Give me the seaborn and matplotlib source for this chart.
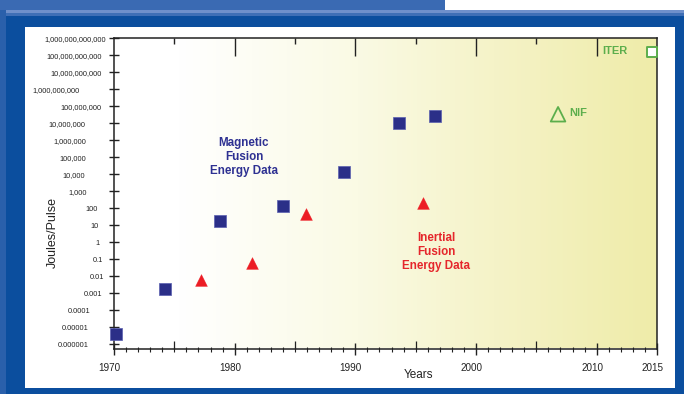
import numpy as np
import pandas as pd
import matplotlib
matplotlib.use("Agg")
import matplotlib.pyplot as plt
import seaborn as sns
from matplotlib.transforms import ScaledTranslation
from matplotlib.colors import LinearSegmentedColormap
from matplotlib.patches import Rectangle

# ---------------- data ----------------
mfe_years = [1970.2, 1974.2, 1978.8, 1984.0, 1989.1, 1993.6, 1996.6]
mfe_joules = [3.9e-6, 1.8e-3, 18, 140, 1.3e4, 1.0e7, 2.8e7]
ife_years = [1977.2, 1981.4, 1985.9, 1995.6]
ife_joules = [6e-3, 0.057, 46, 195]
nif_year = [2006.8]
nif_joules = [3.4e7]
iter_year = [2014.6]
iter_joules = [1.6e11]

ytick_values = [1e-6, 1e-5, 1e-4, 1e-3, 1e-2, 1e-1, 1, 10, 100, 1e3, 1e4, 1e5,
                1e6, 1e7, 1e8, 1e9, 1e10, 1e11, 1e12]
ytick_labels = ["0.000001", "0.00001", "0.0001", "0.001", "0.01", "0.1", "1", "10",
                "100", "1,000", "10,000", "100,000", "1,000,000", "10,000,000",
                "100,000,000", "1,000,000,000", "10,000,000,000",
                "100,000,000,000", "1,000,000,000,000"]
xtick_years = [1970, 1980, 1990, 2000, 2010, 2015]
xtick_labels = ["1970", "1980", "1990", "2000", "2010", "2015"]
mid_years = [1975, 1985, 1995, 2005]
top_long_years = [1980, 1990, 2000, 2010]
top_short_years = [1975, 1985, 1995, 2005]
minor_years = list(range(1970, 2016))

# ---------------- style ----------------
sns.set_theme(style="white")
plt.rcParams["font.family"] = ["Liberation Sans", "DejaVu Sans"]

NAVY = "#2b2f88"
RED = "#ec1c24"
GREEN = "#5cae4c"
INK = "#222222"
FRAME = "#0b4e9e"

W, H = 684, 394
fig = plt.figure(figsize=(W / 100, H / 100), dpi=100, facecolor=FRAME)

def frect(x0, y0, x1, y1, color, z=-5):
    fig.add_artist(Rectangle((x0 / W, 1 - y1 / H), (x1 - x0) / W, (y1 - y0) / H,
                             transform=fig.transFigure, facecolor=color,
                             edgecolor="none", zorder=z))

# outer decoration
frect(0, 0, 445, 10, "#3a6ab3")
frect(445, 0, W, 10, "#ffffff")
frect(0, 10, W, 13, "#6f90cb")
frect(0, 13, W, 16, "#3f6fb6")
frect(0, 10, 6, H, "#2a60ab", z=-4)
frect(25, 27, 675, 388, "#ffffff", z=-3)

# axes placement (pixels)
L, R, T, B = 114, 657, 38.3, 348.5
pos = [L / W, 1 - B / H, (R - L) / W, (B - T) / H]

# gradient background
bg = fig.add_axes(pos, zorder=0)
cmap = LinearSegmentedColormap.from_list(
    "fade", [(0, "#ffffff"), (0.12, "#ffffff"), (0.45, "#fafae4"),
             (0.7, "#f5f3c8"), (1, "#efeca9")])
bg.imshow(np.linspace(0, 1, 256)[None, :], cmap=cmap, aspect="auto",
          extent=[0, 1, 0, 1])
bg.axis("off")

ax = fig.add_axes(pos, zorder=1)
ax.set_facecolor("none")
ax.set_yscale("log")
ax.set_xlim(1970, 2015)
ax.set_ylim(10 ** -6.25, 1e12)

mfe = pd.DataFrame({"Years": mfe_years, "Joules": mfe_joules})
ife = pd.DataFrame({"Years": ife_years, "Joules": ife_joules})

sns.scatterplot(data=mfe, x="Years", y="Joules", marker="s", s=75, color=NAVY,
                edgecolor="#5a5fb0", linewidth=0.5, ax=ax, zorder=3, clip_on=False)
sns.scatterplot(data=ife, x="Years", y="Joules", marker="^", s=72, color=RED,
                edgecolor=RED, linewidth=0.3, ax=ax, zorder=3, clip_on=False)
sns.scatterplot(x=nif_year, y=nif_joules, marker="^", s=110, facecolors="none",
                edgecolors=GREEN, linewidth=1.3, ax=ax, zorder=3, clip_on=False)
sns.scatterplot(x=iter_year, y=iter_joules, marker="s", s=62, facecolors="white",
                edgecolors=GREEN, linewidth=1.4, ax=ax, zorder=3, clip_on=False)

# annotations
ax.text(1980.77, 1.07e5, "Magnetic\nFusion\nEnergy Data", color="#2e3192",
        fontsize=8.4, fontweight="bold", ha="center", va="center", linespacing=1.2)
ax.text(1996.68, 0.26, "Inertial\nFusion\nEnergy Data", color="#e5262b",
        fontsize=8.4, fontweight="bold", ha="center", va="center", linespacing=1.2)
ax.text(2007.75, 10 ** 7.6, "NIF", color=GREEN, fontsize=8, fontweight="bold",
        ha="left", va="center")
ax.text(2010.5, 10 ** 11.27, "ITER", color=GREEN, fontsize=8, fontweight="bold",
        ha="left", va="center")

# spines
for s in ax.spines.values():
    s.set_visible(True)
    s.set_color(INK)
    s.set_linewidth(1.1)

# y ticks
ax.yaxis.set_major_locator(matplotlib.ticker.FixedLocator(ytick_values))
ax.yaxis.set_minor_locator(matplotlib.ticker.NullLocator())
ax.set_yticks(ytick_values)
ax.set_yticklabels(ytick_labels)
ax.tick_params(axis="y", which="major", direction="inout", length=6.5, width=1.0,
               color=INK, labelsize=5.3, labelcolor=INK, pad=3.95, left=True)

# x ticks
ax.set_xticks(xtick_years)
ax.set_xticklabels(xtick_labels)
ax.set_xticks(minor_years, minor=True)
ax.tick_params(axis="x", which="major", direction="inout", length=9, width=1.0,
               color=INK, labelsize=7.1, labelcolor=INK, pad=5.9, bottom=True,
               top=False)
ax.tick_params(axis="x", which="minor", direction="inout", length=3.6, width=0.8,
               color=INK, bottom=True, top=False)

sec = ax.secondary_xaxis("bottom")
sec.set_xticks(mid_years)
sec.tick_params(axis="x", direction="in", length=5.5, width=0.9, color=INK,
                labelbottom=False)
for s in sec.spines.values():
    s.set_visible(False)

sect = ax.secondary_xaxis("top")
sect.set_xticks(top_long_years)
sect.set_xticks(top_short_years, minor=True)
sect.tick_params(axis="x", which="major", direction="in", length=13, width=1.0,
                 color=INK, labeltop=False)
sect.tick_params(axis="x", which="minor", direction="in", length=4.5, width=1.0,
                 color=INK, labeltop=False)
for s in sect.spines.values():
    s.set_visible(False)

# axis labels
ax.set_xlabel("Years", fontsize=8.5, color=INK)
ax.set_ylabel("Joules/Pulse", fontsize=9, color=INK)
ax.xaxis.set_label_coords((418 - L) / (R - L), (B - 369) / (B - T))
ax.yaxis.set_label_coords((59 - L) / (R - L), (B - 232) / (B - T))

# hand-placed label offsets as in the original artwork
yl_right_px = [88.3, 89, 90.7, 102.3, 104.3, 103.3, 100, 98.7, 97.3, 86.7, 85,
               85.7, 86.7, 85, 101.7, 80, 101.7, 101.7, 106]
for lab, rx in zip(ax.get_yticklabels(), yl_right_px):
    lab.set_transform(lab.get_transform() +
                      ScaledTranslation((rx - 104) / 100, 0, fig.dpi_scale_trans))
for lab in ax.get_xticklabels():
    lab.set_transform(lab.get_transform() +
                      ScaledTranslation(-0.045, 0, fig.dpi_scale_trans))

fig.savefig("out.png", dpi=100, facecolor=FRAME)
